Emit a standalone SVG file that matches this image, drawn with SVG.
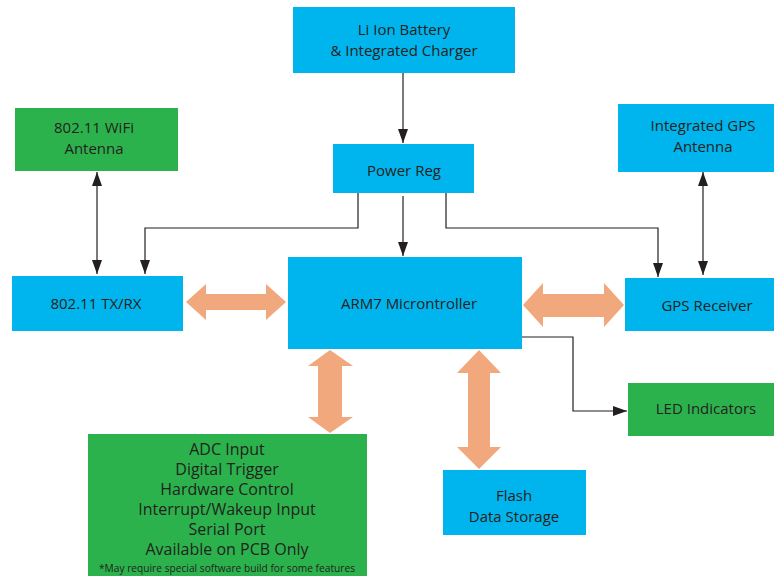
<svg xmlns="http://www.w3.org/2000/svg" width="774" height="578" viewBox="0 0 774 578">
<defs>
<style>
.blue{fill:#00b5ed}
.green{fill:#2bb24c}
.t{font-family:"Open Sans","Liberation Sans",sans-serif;font-size:15px;fill:#231f20;text-anchor:middle}
.m{font-size:16px}
.s{font-size:10.2px}
.ln{fill:none;stroke:#231f20;stroke-width:1.2}
.big{fill:#f2a87d}
</style>
<marker id="ah2" viewBox="0 0 14 10" refX="14" refY="5" markerWidth="14" markerHeight="10" markerUnits="userSpaceOnUse" orient="auto-start-reverse">
<path d="M0,0 L14,5 L0,10 Z" fill="#231f20"/>
</marker>
</defs>
<rect width="774" height="578" fill="#fff"/>

<g id="connectors">
<path class="ln" d="M403,73 V143" marker-end="url(#ah2)"/>
<path class="ln" d="M403,196 V256" marker-end="url(#ah2)"/>
<path class="ln" d="M358,193 V228 H145 V274" marker-end="url(#ah2)"/>
<path class="ln" d="M446,193 V228 H658 V277" marker-end="url(#ah2)"/>
<path class="ln" d="M97,172 V274" marker-start="url(#ah2)" marker-end="url(#ah2)"/>
<path class="ln" d="M703,172 V275" marker-start="url(#ah2)" marker-end="url(#ah2)"/>
<path class="ln" d="M522,337 H573 V411 H627" marker-end="url(#ah2)"/>
<path class="big" d="M186,302 L206,284 V294 H266 V284 L286,302 L266,320 V310 H206 V320 Z"/>
<path class="big" d="M523,305 L543,283 V294 H604 V283 L624,305 L604,327 V317 H543 V327 Z"/>
<path class="big" d="M330,350 L353,366 H342 V417 H353 L330,433 L308,417 H318 V366 H308 Z"/>
<path class="big" d="M479,350 L501,373 H490 V447 H501 L479,469 L457,447 H468 V373 H457 Z"/>
</g>

<g id="battery">
<rect class="blue" x="293" y="7" width="222" height="66"/>
<text class="t" x="404" y="35">Li Ion Battery</text>
<text class="t" x="404" y="56">&amp; Integrated Charger</text>
</g>
<g id="powerreg">
<rect class="blue" x="333" y="144" width="141" height="49"/>
<text class="t" x="404" y="176">Power Reg</text>
</g>
<g id="wifiantenna">
<rect class="green" x="15" y="108" width="163" height="63"/>
<text class="t" x="94" y="133">802.11 WiFi</text>
<text class="t" x="94" y="154">Antenna</text>
</g>
<g id="txrx">
<rect class="blue" x="12" y="276" width="171" height="55"/>
<text class="t" x="96" y="309">802.11 TX/RX</text>
</g>
<g id="arm7">
<rect class="blue" x="288" y="257" width="234" height="92"/>
<text class="t" x="409" y="309">ARM7 Microntroller</text>
</g>
<g id="gpsantenna">
<rect class="blue" x="618" y="104" width="156" height="68"/>
<text class="t" x="703" y="131">Integrated GPS</text>
<text class="t" x="703" y="152">Antenna</text>
</g>
<g id="gpsreceiver">
<rect class="blue" x="625" y="278" width="149" height="53"/>
<text class="t" x="707" y="311">GPS Receiver</text>
</g>
<g id="led">
<rect class="green" x="628" y="383" width="146" height="53"/>
<text class="t" x="706" y="414">LED Indicators</text>
</g>
<g id="flash">
<rect class="blue" x="443" y="470" width="143" height="65"/>
<text class="t" x="514" y="501">Flash</text>
<text class="t" x="514" y="522">Data Storage</text>
</g>
<g id="io">
<rect class="green" x="88" y="434" width="279" height="142"/>
<text class="t m" x="227" y="455">ADC Input</text>
<text class="t m" x="227" y="475">Digital Trigger</text>
<text class="t m" x="227" y="495">Hardware Control</text>
<text class="t m" x="227" y="515">Interrupt/Wakeup Input</text>
<text class="t m" x="227" y="535">Serial Port</text>
<text class="t m" x="227" y="555">Available on PCB Only</text>
<text class="t s" x="227" y="572">*May require special software build for some features</text>
</g>
</svg>
